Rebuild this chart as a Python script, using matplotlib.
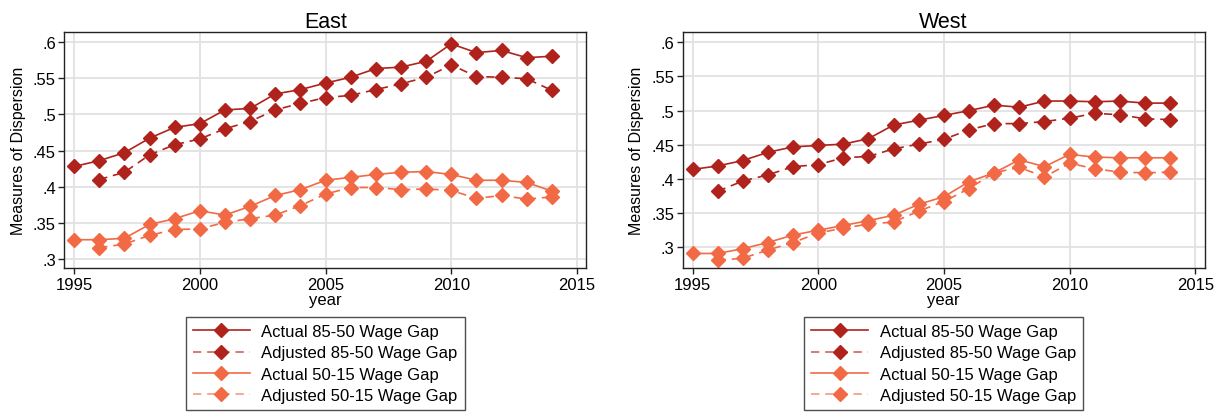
import matplotlib
matplotlib.use("Agg")
import matplotlib.pyplot as plt
from matplotlib.ticker import FuncFormatter

plt.rcParams['font.family'] = ['Liberation Sans', 'DejaVu Sans']

years = list(range(1995, 2015))
years_adj = list(range(1996, 2015))

east_act_8550 = [.428, .436, .447, .467, .482, .487, .506, .508, .528, .534,
                 .543, .551, .563, .565, .573, .597, .585, .588, .578, .580]
east_adj_8550 = [.410, .420, .444, .458, .466, .480, .490, .506, .515,
                 .523, .526, .534, .542, .551, .568, .552, .551, .549, .533]
east_act_5015 = [.327, .327, .329, .348, .356, .367, .361, .373, .388, .396,
                 .409, .413, .417, .420, .421, .417, .409, .409, .406, .394]
east_adj_5015 = [.316, .321, .333, .341, .342, .351, .356, .361, .374,
                 .390, .399, .399, .396, .397, .395, .384, .388, .383, .386]

west_act_8550 = [.414, .419, .427, .439, .447, .449, .451, .459, .479, .486,
                 .493, .500, .508, .505, .514, .514, .513, .514, .511, .511]
west_adj_8550 = [.382, .397, .406, .418, .421, .431, .433, .444, .451,
                 .458, .472, .481, .481, .484, .489, .496, .494, .488, .487]
west_act_5015 = [.291, .291, .298, .307, .318, .325, .332, .339, .347, .363,
                 .374, .396, .409, .428, .418, .436, .432, .431, .431, .431]
west_adj_5015 = [.281, .284, .296, .307, .321, .328, .334, .337, .353,
                 .367, .386, .409, .417, .403, .423, .415, .410, .409, .410]

labels = ["Actual 85-50 Wage Gap", "Adjusted 85-50 Wage Gap",
          "Actual 50-15 Wage Gap", "Adjusted 50-15 Wage Gap"]
yticks = [.3, .35, .4, .45, .5, .55, .6]
xticks = [1995, 2000, 2005, 2010, 2015]

DARK = '#B0231C'
ORNG = '#F26A45'

fig = plt.figure(figsize=(12.19, 4.14), dpi=100)

panels = [
    ("East", [64.3, 586.3], (0.2876, 0.613),
     east_act_8550, east_adj_8550, east_act_5015, east_adj_5015),
    ("West", [682.7, 1204.6], (0.2693, 0.6146),
     west_act_8550, west_adj_8550, west_act_5015, west_adj_5015),
]

W, H = 1219, 414
top_px, bot_px = 33.3, 269.3

def fmt(v, pos):
    s = ('%.2f' % v).rstrip('0').rstrip('.')
    return s.lstrip('0') if s.startswith('0') else s

for title, (lpx, rpx), ylim, a1, a2, a3, a4 in panels:
    ax = fig.add_axes([lpx / W, 1 - bot_px / H, (rpx - lpx) / W, (bot_px - top_px) / H])
    ms = 7.5
    h1, = ax.plot(years, a1, color=DARK, lw=1.2, marker='D', ms=ms, mec=DARK, mfc=DARK)
    h2, = ax.plot(years_adj, a2, color=DARK, lw=1.2, ls=(0, (5, 3.5)), marker='D', ms=ms,
                  mec=DARK, mfc=DARK)
    h3, = ax.plot(years, a3, color=ORNG, lw=1.2, marker='D', ms=ms, mec=ORNG, mfc=ORNG)
    h4, = ax.plot(years_adj, a4, color=ORNG, lw=1.2, ls=(0, (5, 3.5)), marker='D', ms=ms,
                  mec=ORNG, mfc=ORNG)
    ax.set_xlim(1994.61, 2015.37)
    ax.set_ylim(*ylim)
    ax.set_xticks(xticks)
    ax.set_yticks(yticks)
    ax.yaxis.set_major_formatter(FuncFormatter(fmt))
    ax.grid(True, color='#E2E2E2', lw=1.3)
    ax.set_axisbelow(True)
    for sp in ax.spines.values():
        sp.set_color('#222222')
        sp.set_linewidth(1.0)
    ax.tick_params(direction='out', length=4, width=1, labelsize=12, colors='#222222',
                   labelcolor='black', pad=2)
    ax.set_title(title, fontsize=15.5, pad=4)
    ax.set_xlabel('year', fontsize=12, labelpad=0)
    ax.set_ylabel('Measures of Dispersion', fontsize=11.5, labelpad=5)
    cx = (lpx + rpx) / 2 / W
    leg = fig.legend([h1, h2, h3, h4], labels, loc='upper center',
                     bbox_to_anchor=(cx, 1 - 318 / H), bbox_transform=fig.transFigure,
                     fontsize=12, frameon=True, fancybox=False, handlelength=3.4,
                     borderpad=0.42, labelspacing=0.38, handletextpad=0.7,
                     borderaxespad=0, markerscale=0.9)
    leg.get_frame().set_edgecolor('#222222')
    leg.get_frame().set_linewidth(1.0)
    lines = leg.get_lines()
    lines[1].set_color('#D0625C')
    lines[1].set_markerfacecolor(DARK)
    lines[1].set_markeredgecolor(DARK)
    lines[3].set_color('#F59A82')
    lines[3].set_markerfacecolor(ORNG)
    lines[3].set_markeredgecolor(ORNG)

fig.savefig('out.png', dpi=100)
